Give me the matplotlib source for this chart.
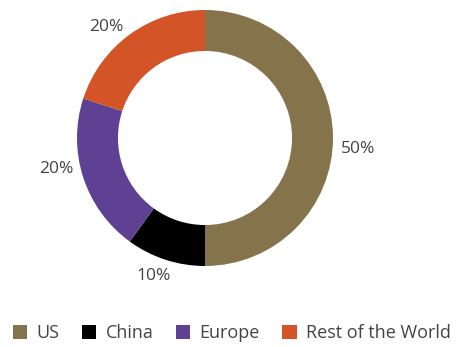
import numpy as np
import matplotlib.pyplot as plt
from matplotlib.patches import Patch

plt.rcParams['font.family'] = ['Open Sans', 'DejaVu Sans']

regions = ['US', 'China', 'Europe', 'Rest of the World']
shares = [50, 10, 20, 20]
colors = ['#85744b', '#000000', '#5f4194', '#d35427']

fig = plt.figure(figsize=(4.59, 3.47), dpi=100)
ax = fig.add_axes([0, 0, 1, 1])

wedges, _ = ax.pie(shares, colors=colors, startangle=90, counterclock=False,
                   radius=1.0, wedgeprops=dict(width=0.32, edgecolor='none'))

# pixel geometry: ring centre at (205, 138) from top-left, outer radius 128 px
# (pie() resets the limits, so set them afterwards)
scale = 128.0
cx, cy = 205, 347 - 138
ax.set_xlim(-cx / scale, (459 - cx) / scale)
ax.set_ylim(-cy / scale, (347 - cy) / scale)
ax.set_aspect('equal')
ax.axis('off')

# percentage labels outside the ring, near each wedge's mid angle
label_shift = [-3, -3, -7, 5]      # degrees, to keep labels clear of each other
label_dist = [1.2, 1.13, 1.18, 1.18]
total = sum(shares)
angle = 90.0
for val, shift, dist in zip(shares, label_shift, label_dist):
    sweep = 360.0 * val / total
    mid = np.deg2rad(angle - sweep / 2 + shift)
    angle -= sweep
    ax.text(dist * np.cos(mid), dist * np.sin(mid) - 0.02, f'{val}%',
            ha='center', va='center', fontsize=12.5, color='#444444')

handles = [Patch(facecolor=c, edgecolor='none') for c in colors]
fig.legend(handles, regions, loc='center', bbox_to_anchor=(0.505, 1 - 333 / 347),
           ncol=4, frameon=False, fontsize=13, handlelength=0.8, handleheight=0.8,
           handletextpad=0.5, columnspacing=1.25, labelcolor='#444444')

fig.savefig('out.png', dpi=100)
